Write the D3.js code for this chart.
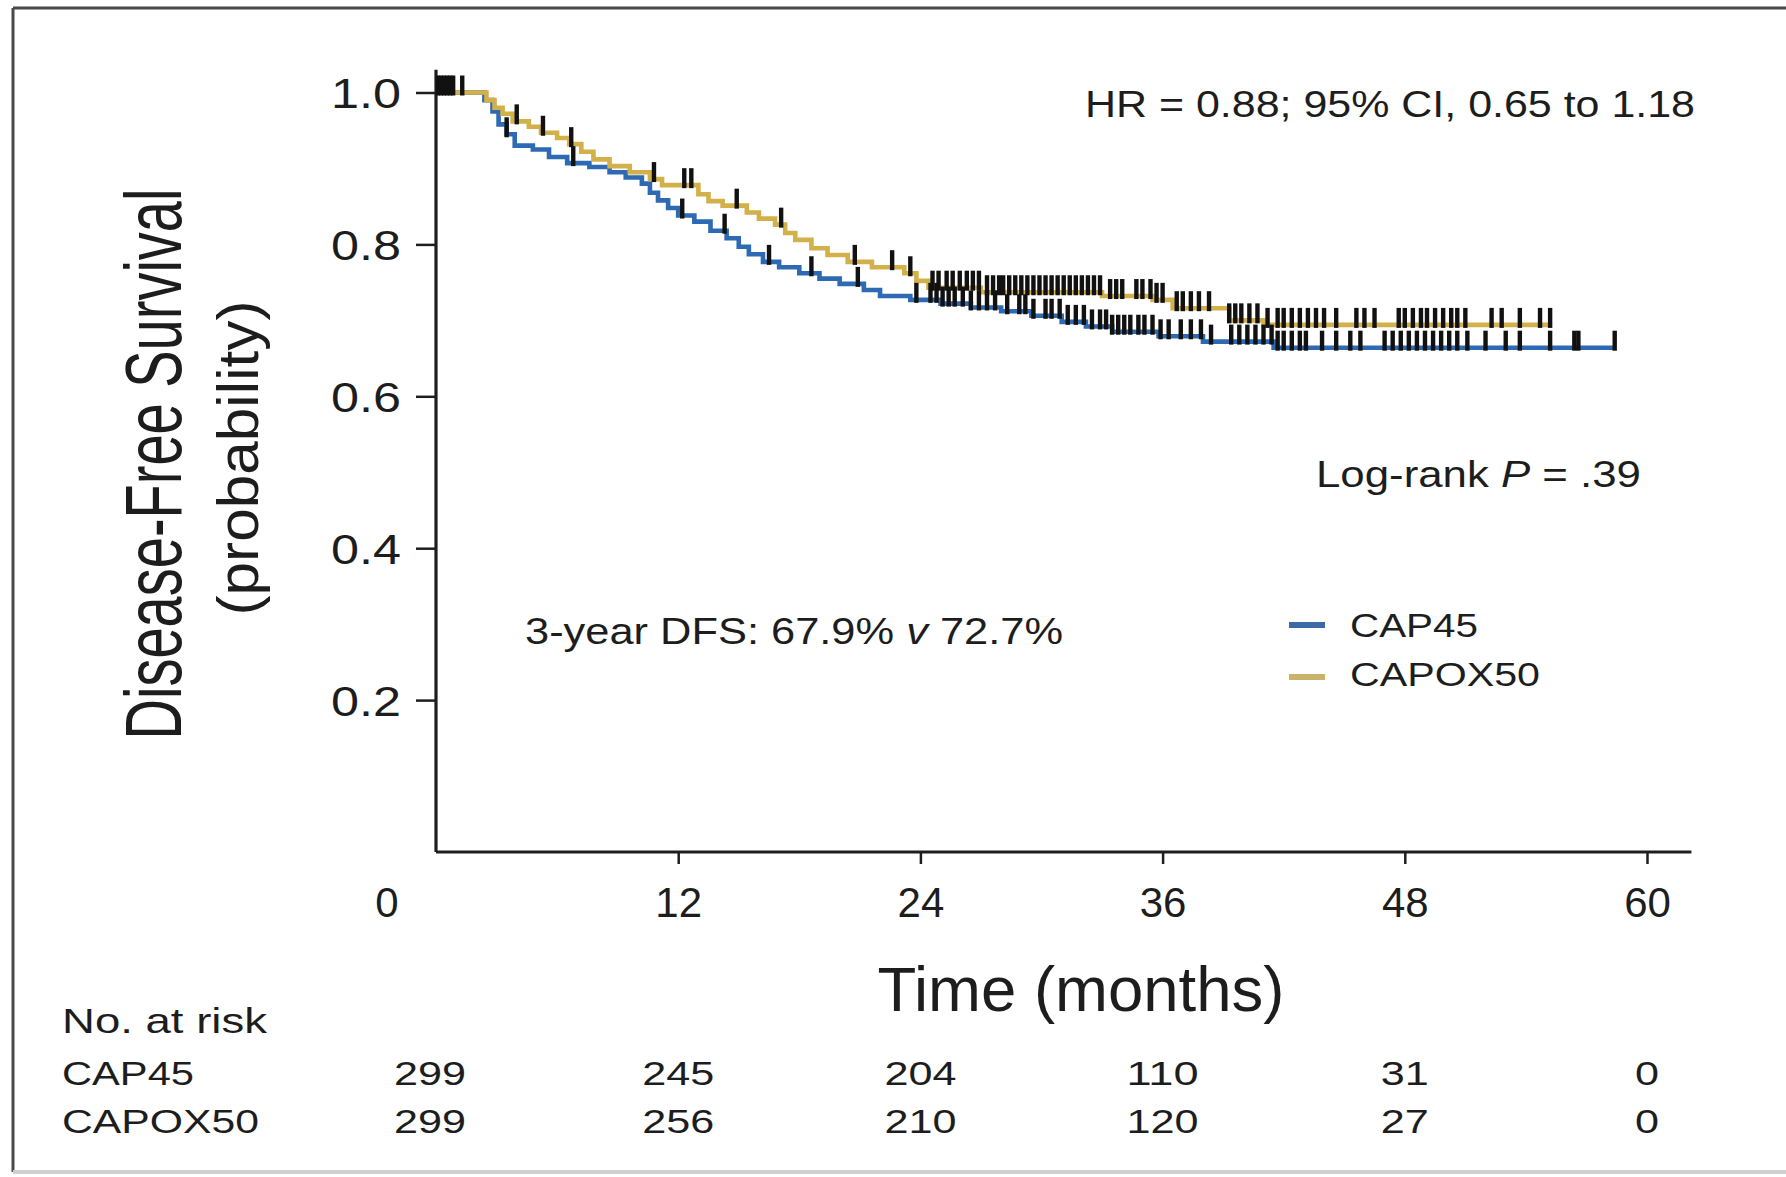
<!DOCTYPE html>
<html>
<head>
<meta charset="utf-8">
<script src="https://cdn.jsdelivr.net/npm/d3@7"></script>
<style>
  body { margin: 0; background: #fff; }
  svg text { font-family: "Liberation Sans", Arial, Helvetica, sans-serif; fill: #1d1d1d; }
</style>
</head>
<body>
<svg id="chart" width="1786" height="1177"></svg>
<script>
// Kaplan-Meier step estimates (time in months, survival probability)
const cap45Times = [0, 2.4, 2.8, 3.1, 3.5, 3.9, 4.8, 5.6, 6.5, 7.6, 8.6, 9.4, 10.2, 10.6, 11.0, 11.5, 12.0, 12.8, 13.6, 14.4, 15.0, 15.5, 16.2, 17.0, 18.0, 19.0, 20.0, 21.2, 22.0, 23.5, 25.0, 26.5, 28.0, 29.5, 31.0, 32.2, 33.5, 35.8, 38.0, 41.5];
const cap45Surv  = [1.0, 0.99, 0.975, 0.958, 0.945, 0.930, 0.925, 0.915, 0.907, 0.902, 0.895, 0.888, 0.880, 0.868, 0.858, 0.848, 0.838, 0.830, 0.818, 0.808, 0.797, 0.787, 0.777, 0.770, 0.762, 0.755, 0.748, 0.740, 0.732, 0.727, 0.722, 0.717, 0.712, 0.706, 0.698, 0.692, 0.685, 0.679, 0.672, 0.664];
const cap45End = 58.4;

const capox50Times = [0, 2.5, 2.9, 3.3, 3.8, 4.6, 5.2, 6.0, 6.6, 7.2, 7.8, 8.6, 9.6, 10.6, 11.2, 13.0, 13.5, 14.2, 15.4, 16.0, 16.8, 17.3, 17.8, 18.6, 19.4, 20.4, 21.6, 23.2, 23.8, 24.4, 27.0, 33.0, 35.5, 36.5, 39.3, 41.0];
const capox50Surv  = [1.0, 0.99, 0.98, 0.972, 0.962, 0.955, 0.947, 0.940, 0.932, 0.922, 0.912, 0.903, 0.895, 0.886, 0.878, 0.866, 0.857, 0.851, 0.842, 0.834, 0.826, 0.815, 0.806, 0.795, 0.786, 0.777, 0.770, 0.762, 0.752, 0.743, 0.737, 0.732, 0.727, 0.716, 0.700, 0.694];
const capox50End = 55.3;

// Censoring times (months)
const cap45Censored = [1.3, 3.5, 6.8, 12.2, 14.3, 16.5, 18.6, 20.9, 23.8, 24.5, 24.8, 25.1, 25.4, 25.7, 26.1, 26.5, 26.9, 27.3, 27.7, 28.3, 28.9, 29.2, 29.6, 30.2, 30.5, 30.9, 31.3, 31.7, 32.1, 32.5, 32.9, 33.2, 33.5, 33.8, 34.1, 34.4, 34.8, 35.1, 35.5, 35.9, 36.3, 36.9, 37.4, 37.9, 38.4, 39.4, 39.8, 40.2, 40.6, 41.0, 41.4, 41.7, 42.0, 42.4, 42.8, 43.1, 43.9, 44.6, 45.3, 45.8, 47.0, 47.4, 47.8, 48.2, 48.6, 49.0, 49.4, 49.8, 50.2, 50.6, 51.1, 52.0, 53.0, 53.7, 55.2, 56.4, 56.6, 58.4];
const capox50Censored = [0.1, 0.25, 0.4, 0.55, 0.7, 0.85, 4.0, 5.3, 6.7, 10.8, 12.3, 12.65, 14.9, 17.1, 20.75, 22.6, 23.5, 24.6, 24.9, 25.3, 25.6, 25.95, 26.3, 26.6, 26.9, 27.3, 27.6, 27.9, 28.1, 28.4, 28.7, 29.0, 29.3, 29.6, 29.9, 30.2, 30.5, 30.8, 31.1, 31.4, 31.7, 32.0, 32.3, 32.6, 32.9, 33.4, 33.7, 34.0, 34.7, 35.0, 35.4, 35.7, 36.0, 36.7, 37.0, 37.4, 37.8, 38.3, 39.3, 39.6, 39.9, 40.3, 40.7, 41.2, 41.7, 42.0, 42.4, 42.8, 43.2, 43.6, 44.0, 44.6, 45.6, 46.0, 46.5, 47.7, 48.0, 48.4, 48.8, 49.1, 49.5, 49.9, 50.3, 50.6, 51.0, 52.3, 52.8, 53.7, 54.7, 55.2];

// Axis ticks
const xTicks = [12, 24, 36, 48, 60];
const yTicks = [0.2, 0.4, 0.6, 0.8, 1.0];

// Number at risk table
const riskTimes = [0, 12, 24, 36, 48, 60];
const riskGroups = ["CAP45", "CAPOX50"];
const cap45Risk = [299, 245, 204, 110, 31, 0];
const capox50Risk = [299, 256, 210, 120, 27, 0];

const seriesNames = ["CAP45", "CAPOX50"];
const seriesColors = ["#2d6ab3", "#d2b04a"];
const legendColors = ["#3c6aa6", "#c9b36c"];

const svg = d3.select("#chart");

const x = d3.scaleLinear().domain([0, 60]).range([436, 1647]);
const y = d3.scaleLinear().domain([0, 1]).range([852, 92.5]);

// frame around the figure
const frame = svg.append("g");
frame.append("line").attr("x1", 13).attr("x2", 1786).attr("y1", 8).attr("y2", 8)
  .attr("stroke", "#4a4a4a").attr("stroke-width", 3);
frame.append("line").attr("x1", 13).attr("x2", 13).attr("y1", 8).attr("y2", 1172)
  .attr("stroke", "#4a4a4a").attr("stroke-width", 3);
frame.append("line").attr("x1", 13).attr("x2", 1786).attr("y1", 1172).attr("y2", 1172)
  .attr("stroke", "#d0d0d0").attr("stroke-width", 4);

// text helper: fits text to a given length when provided
function label(parent, px, py, str, o) {
  const t = parent.append("text")
    .attr("x", px).attr("y", py)
    .attr("font-size", o.size)
    .attr("text-anchor", o.anchor || "start");
  if (o.len) t.attr("textLength", o.len).attr("lengthAdjust", "spacingAndGlyphs");
  if (o.parts) {
    o.parts.forEach(p => {
      const ts = t.append("tspan").text(p.t);
      if (p.italic) ts.attr("font-style", "italic");
    });
  } else {
    t.text(str);
  }
  return t;
}

// axes
const axisWidth = 3.2;
const yAxisTop = 1.03;
const xAxisRight = 62.2;

const gy = svg.append("g").attr("transform", `translate(${x(0)},0)`)
  .call(d3.axisLeft(y).tickValues(yTicks).tickSize(20).tickSizeOuter(0).tickFormat(d3.format(".1f")));
gy.select(".domain").attr("d", `M0,${y(0)}V${y(yAxisTop)}`)
  .attr("stroke", "#1e1e1e").attr("stroke-width", axisWidth);
gy.selectAll(".tick line").attr("stroke", "#1e1e1e").attr("stroke-width", 2.5);
gy.selectAll(".tick text")
  .attr("x", -35).attr("dy", "0.36em")
  .attr("font-size", 43).attr("fill", "#1d1d1d")
  .attr("font-family", "Liberation Sans, Arial, sans-serif")
  .attr("textLength", 70).attr("lengthAdjust", "spacingAndGlyphs");

const gx = svg.append("g").attr("transform", `translate(0,${y(0)})`)
  .call(d3.axisBottom(x).tickValues(xTicks).tickSize(12).tickSizeOuter(0));
gx.select(".domain").attr("d", `M${x(0)},0H${x(xAxisRight)}`)
  .attr("stroke", "#1e1e1e").attr("stroke-width", axisWidth);
gx.selectAll(".tick line").attr("stroke", "#1e1e1e").attr("stroke-width", 2.5);
gx.selectAll(".tick text")
  .attr("y", 65).attr("dy", 0)
  .attr("font-size", 42).attr("fill", "#1d1d1d")
  .attr("font-family", "Liberation Sans, Arial, sans-serif");
// origin label sits left of the corner
label(svg, x(0) - 49, y(0) + 65, "0", { size: 42, anchor: "middle" });

// axis titles
label(svg, 1081, 1011, "Time (months)", { size: 63, anchor: "middle", len: 407 });
// vertical title: condensed by scaling along the reading direction
svg.append("text")
  .attr("transform", "translate(181,464) rotate(-90) scale(0.70,1)")
  .attr("text-anchor", "middle").attr("font-size", 80)
  .text("Disease-Free Survival");
svg.append("text")
  .attr("transform", "translate(258,458) rotate(-90) scale(1.04,1)")
  .attr("text-anchor", "middle").attr("font-size", 58)
  .text("(probability)");

// survival curves
function steps(times, surv, end) {
  const pts = times.map((t, i) => [t, surv[i]]);
  pts.push([end, surv[surv.length - 1]]);
  return pts;
}
function survAt(times, surv, t) {
  const i = d3.bisectRight(times, t) - 1;
  return surv[Math.max(0, i)];
}
const line = d3.line().x(d => x(d[0])).y(d => y(d[1])).curve(d3.curveStepAfter);

const series = [
  { times: cap45Times, surv: cap45Surv, end: cap45End, cens: cap45Censored, color: seriesColors[0] },
  { times: capox50Times, surv: capox50Surv, end: capox50End, cens: capox50Censored, color: seriesColors[1] }
];

const curves = svg.append("g");
series.forEach(s => {
  curves.append("path")
    .datum(steps(s.times, s.surv, s.end))
    .attr("d", line)
    .attr("fill", "none")
    .attr("stroke", s.color)
    .attr("stroke-width", 4.6)
    .attr("stroke-linejoin", "miter");
});

// censoring marks
const marks = svg.append("g");
series.forEach(s => {
  marks.selectAll(null)
    .data(s.cens)
    .join("line")
    .attr("x1", d => x(d)).attr("x2", d => x(d))
    .attr("y1", d => y(survAt(s.times, s.surv, d)) - 17)
    .attr("y2", d => y(survAt(s.times, s.surv, d)) + 3)
    .attr("stroke", "#111")
    .attr("stroke-width", 4.4);
});

// annotations
label(svg, 1085, 117, "", { size: 37, len: 610, parts: [{ t: "HR = 0.88; 95% CI, 0.65 to 1.18" }] });
label(svg, 1316, 487, "", { size: 36, len: 325, parts: [{ t: "Log-rank " }, { t: "P", italic: true }, { t: " = .39" }] });
label(svg, 525, 644, "", { size: 36, len: 538, parts: [{ t: "3-year DFS: 67.9% " }, { t: "v", italic: true }, { t: " 72.7%" }] });

// legend
const legend = svg.append("g");
const legendRows = [{ y: 625, ty: 637, len: 128 }, { y: 677, ty: 686, len: 190 }];
seriesNames.forEach((n, i) => {
  legend.append("line")
    .attr("x1", 1289).attr("x2", 1325)
    .attr("y1", legendRows[i].y).attr("y2", legendRows[i].y)
    .attr("stroke", legendColors[i]).attr("stroke-width", 6);
  label(legend, 1350, legendRows[i].ty, n, { size: 34, len: legendRows[i].len });
});

// number at risk table
const table = svg.append("g");
label(table, 62, 1033, "No. at risk", { size: 35, len: 205 });
const rowY = [1085, 1133];
const rowLen = [132, 197];
const riskRows = [cap45Risk, capox50Risk];
riskGroups.forEach((g, i) => {
  label(table, 62, rowY[i], g, { size: 33, len: rowLen[i] });
  riskRows[i].forEach((v, j) => {
    const s = String(v);
    label(table, x(riskTimes[j]) - (j === 0 ? 6 : 0), rowY[i], s, { size: 33, anchor: "middle", len: 24 * s.length });
  });
});
</script>
</body>
</html>
